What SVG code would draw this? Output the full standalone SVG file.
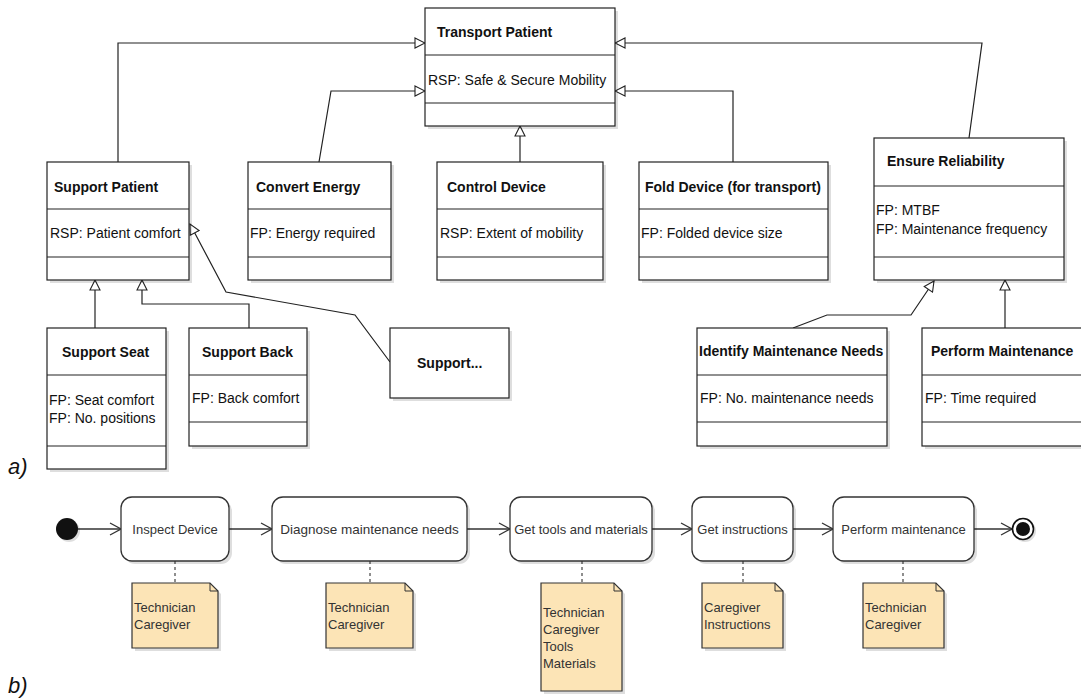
<svg xmlns="http://www.w3.org/2000/svg" width="1081" height="700" viewBox="0 0 1081 700">
<style>
.bx{fill:#fff;stroke:#222;stroke-width:1.2}
.sh{fill:#000;opacity:0.13}
.dv{stroke:#222;stroke-width:1.2}
.hd{font-family:"Liberation Sans",Arial,sans-serif;font-size:14px;font-weight:bold;fill:#111}
.tx{font-family:"Liberation Sans",Arial,sans-serif;font-size:14px;fill:#111}
.ac{fill:#fff;stroke:#333;stroke-width:1.3}
.at{font-family:"Liberation Sans",Arial,sans-serif;font-size:13px;fill:#333;text-anchor:middle}
.nt{fill:#fce4b6;stroke:#333;stroke-width:1.2}
.ntx{font-family:"Liberation Sans",Arial,sans-serif;font-size:13px;fill:#333}
.gen{fill:none;stroke:#222;stroke-width:1.2;marker-end:url(#tri)}
.flow{fill:none;stroke:#333;stroke-width:1.3;marker-end:url(#open)}
.dash{fill:none;stroke:#444;stroke-width:1.2;stroke-dasharray:3,3}
.lbl{font-family:"Liberation Sans",Arial,sans-serif;font-size:22px;font-style:italic;fill:#111}
</style>
<defs>
<marker id="tri" viewBox="0 0 12 12" refX="11" refY="6" markerWidth="12" markerHeight="12" orient="auto" markerUnits="userSpaceOnUse"><path d="M1,1 L11,6 L1,11 Z" fill="#fff" stroke="#222" stroke-width="1.1"/></marker>
<marker id="open" viewBox="0 0 14 14" refX="13" refY="7" markerWidth="14" markerHeight="14" orient="auto" markerUnits="userSpaceOnUse"><path d="M2,1 L13,7 L2,13" fill="none" stroke="#333" stroke-width="1.3"/></marker>
</defs>

<g id="connectors">
<path class="gen" d="M118,162 V43 H425"/>
<path class="gen" d="M319,162 L331,91 H425"/>
<path class="gen" d="M520,162 V126"/>
<path class="gen" d="M733,162 V91 H615"/>
<path class="gen" d="M969,138 L982,43 H615"/>
<path class="gen" d="M95,328 V280"/>
<path class="gen" d="M249,328 V304 H142 V280"/>
<path class="gen" d="M390,362 L355,315 L226,292 L190,224"/>
<path class="gen" d="M793,328 L827,315 H911 L934,281"/>
<path class="gen" d="M1005,328 V280"/>
<path class="flow" d="M78,529 H121"/>
<path class="flow" d="M229,529 H272"/>
<path class="flow" d="M467,529 H510"/>
<path class="flow" d="M652,529 H692"/>
<path class="flow" d="M793,529 H833"/>
<path class="flow" d="M974,529 H1012"/>
<path class="dash" d="M175,561 V583"/>
<path class="dash" d="M370,561 V583"/>
<path class="dash" d="M582,561 V583"/>
<path class="dash" d="M743,561 V583"/>
<path class="dash" d="M903,561 V583"/>
</g>

<g id="transport-patient">
<rect class="sh" x="428" y="11" width="190" height="118"/>
<rect class="bx" x="425" y="8" width="190" height="118"/>
<line class="dv" x1="425" y1="55" x2="615" y2="55"/>
<line class="dv" x1="425" y1="103" x2="615" y2="103"/>
<text class="hd" x="437" y="37">Transport Patient</text>
<text class="tx" x="428" y="85">RSP: Safe &amp; Secure Mobility</text>
</g>

<g id="support-patient">
<rect class="sh" x="50" y="165" width="142" height="118"/>
<rect class="bx" x="47" y="162" width="142" height="118"/>
<line class="dv" x1="47" y1="209" x2="189" y2="209"/>
<line class="dv" x1="47" y1="257" x2="189" y2="257"/>
<text class="hd" x="54" y="192">Support Patient</text>
<text class="tx" x="50" y="238">RSP: Patient comfort</text>
</g>

<g id="convert-energy">
<rect class="sh" x="251" y="165" width="143" height="118"/>
<rect class="bx" x="248" y="162" width="143" height="118"/>
<line class="dv" x1="248" y1="209" x2="391" y2="209"/>
<line class="dv" x1="248" y1="257" x2="391" y2="257"/>
<text class="hd" x="256" y="192">Convert Energy</text>
<text class="tx" x="250" y="238">FP: Energy required</text>
</g>

<g id="control-device">
<rect class="sh" x="440" y="165" width="166" height="118"/>
<rect class="bx" x="437" y="162" width="166" height="118"/>
<line class="dv" x1="437" y1="209" x2="603" y2="209"/>
<line class="dv" x1="437" y1="257" x2="603" y2="257"/>
<text class="hd" x="447" y="192">Control Device</text>
<text class="tx" x="440" y="238">RSP: Extent of mobility</text>
</g>

<g id="fold-device">
<rect class="sh" x="642" y="165" width="189" height="118"/>
<rect class="bx" x="639" y="162" width="189" height="118"/>
<line class="dv" x1="639" y1="209" x2="828" y2="209"/>
<line class="dv" x1="639" y1="257" x2="828" y2="257"/>
<text class="hd" x="645" y="192">Fold Device (for transport)</text>
<text class="tx" x="641" y="238">FP: Folded device size</text>
</g>

<g id="ensure-reliability">
<rect class="sh" x="877" y="141" width="190" height="142"/>
<rect class="bx" x="874" y="138" width="190" height="142"/>
<line class="dv" x1="874" y1="186" x2="1064" y2="186"/>
<line class="dv" x1="874" y1="257" x2="1064" y2="257"/>
<text class="hd" x="887" y="166">Ensure Reliability</text>
<text class="tx" x="876" y="215">FP: MTBF</text>
<text class="tx" x="876" y="234">FP: Maintenance frequency</text>
</g>

<g id="support-seat">
<rect class="sh" x="50" y="331" width="119" height="141"/>
<rect class="bx" x="47" y="328" width="119" height="141"/>
<line class="dv" x1="47" y1="375" x2="166" y2="375"/>
<line class="dv" x1="47" y1="446" x2="166" y2="446"/>
<text class="hd" x="62" y="357">Support Seat</text>
<text class="tx" x="49" y="405">FP: Seat comfort</text>
<text class="tx" x="49" y="423">FP: No. positions</text>
</g>

<g id="support-back">
<rect class="sh" x="192" y="331" width="118" height="118"/>
<rect class="bx" x="189" y="328" width="118" height="118"/>
<line class="dv" x1="189" y1="375" x2="307" y2="375"/>
<line class="dv" x1="189" y1="422" x2="307" y2="422"/>
<text class="hd" x="202" y="357">Support Back</text>
<text class="tx" x="192" y="403">FP: Back comfort</text>
</g>

<g id="support-other">
<rect class="sh" x="393" y="331" width="119" height="70"/>
<rect class="bx" x="390" y="328" width="119" height="70"/>
<text class="hd" x="417" y="368">Support...</text>
</g>

<g id="identify-maintenance">
<rect class="sh" x="700" y="331" width="190" height="118"/>
<rect class="bx" x="697" y="328" width="190" height="118"/>
<line class="dv" x1="697" y1="375" x2="887" y2="375"/>
<line class="dv" x1="697" y1="422" x2="887" y2="422"/>
<text class="hd" x="699" y="356">Identify Maintenance Needs</text>
<text class="tx" x="700" y="403">FP: No. maintenance needs</text>
</g>

<g id="perform-maintenance-class">
<rect class="sh" x="925" y="331" width="170" height="118"/>
<rect class="bx" x="922" y="328" width="170" height="118"/>
<line class="dv" x1="922" y1="375" x2="1092" y2="375"/>
<line class="dv" x1="922" y1="422" x2="1092" y2="422"/>
<text class="hd" x="931" y="356">Perform Maintenance</text>
<text class="tx" x="925" y="403">FP: Time required</text>
</g>

<text class="lbl" x="8" y="474">a)</text>
<text class="lbl" x="8" y="693">b)</text>

<g id="start">
<circle cx="69" cy="531" r="11" fill="#000" opacity="0.13"/>
<circle cx="67" cy="529" r="11" fill="#111"/>
</g>

<g id="inspect-device">
<rect class="sh" x="124" y="500" width="108" height="64" rx="11"/>
<rect class="ac" x="121" y="497" width="108" height="64" rx="11"/>
<text class="at" x="175" y="534">Inspect Device</text>
</g>

<g id="diagnose">
<rect class="sh" x="275" y="500" width="195" height="64" rx="11"/>
<rect class="ac" x="272" y="497" width="195" height="64" rx="11"/>
<text class="at" x="369.5" y="534" style="font-size:13.5px">Diagnose maintenance needs</text>
</g>

<g id="get-tools">
<rect class="sh" x="513" y="500" width="142" height="64" rx="11"/>
<rect class="ac" x="510" y="497" width="142" height="64" rx="11"/>
<text class="at" x="581" y="534">Get tools and materials</text>
</g>

<g id="get-instructions">
<rect class="sh" x="695" y="500" width="101" height="64" rx="11"/>
<rect class="ac" x="692" y="497" width="101" height="64" rx="11"/>
<text class="at" x="742.5" y="534">Get instructions</text>
</g>

<g id="perform-maintenance">
<rect class="sh" x="836" y="500" width="141" height="64" rx="11"/>
<rect class="ac" x="833" y="497" width="141" height="64" rx="11"/>
<text class="at" x="903.5" y="534">Perform maintenance</text>
</g>

<g id="end">
<circle cx="1025" cy="531" r="11" fill="#000" opacity="0.13"/>
<circle cx="1023" cy="529" r="10.5" fill="#fff" stroke="#111" stroke-width="1.6"/>
<circle cx="1023" cy="529" r="7" fill="#111"/>
</g>

<g id="note-inspect">
<path class="sh" d="M135,586 H213 L221,594 V651 H135 Z"/>
<path class="nt" d="M132,583 H210 L218,591 V648 H132 Z"/>
<path d="M210,583 V591 H218" fill="none" stroke="#333" stroke-width="1"/>
<text class="ntx" x="134" y="612">Technician</text>
<text class="ntx" x="134" y="629">Caregiver</text>
</g>

<g id="note-diagnose">
<path class="sh" d="M329,586 H408 L416,594 V651 H329 Z"/>
<path class="nt" d="M326,583 H405 L413,591 V648 H326 Z"/>
<path d="M405,583 V591 H413" fill="none" stroke="#333" stroke-width="1"/>
<text class="ntx" x="328" y="612">Technician</text>
<text class="ntx" x="328" y="629">Caregiver</text>
</g>

<g id="note-tools">
<path class="sh" d="M544,586 H617 L625,594 V694 H544 Z"/>
<path class="nt" d="M541,583 H614 L622,591 V691 H541 Z"/>
<path d="M614,583 V591 H622" fill="none" stroke="#333" stroke-width="1"/>
<text class="ntx" x="543" y="617">Technician</text>
<text class="ntx" x="543" y="634">Caregiver</text>
<text class="ntx" x="543" y="651">Tools</text>
<text class="ntx" x="543" y="668">Materials</text>
</g>

<g id="note-instructions">
<path class="sh" d="M705,586 H778 L786,594 V651 H705 Z"/>
<path class="nt" d="M702,583 H775 L783,591 V648 H702 Z"/>
<path d="M775,583 V591 H783" fill="none" stroke="#333" stroke-width="1"/>
<text class="ntx" x="704" y="612">Caregiver</text>
<text class="ntx" x="704" y="629">Instructions</text>
</g>

<g id="note-perform">
<path class="sh" d="M866,586 H939 L947,594 V651 H866 Z"/>
<path class="nt" d="M863,583 H936 L944,591 V648 H863 Z"/>
<path d="M936,583 V591 H944" fill="none" stroke="#333" stroke-width="1"/>
<text class="ntx" x="865" y="612">Technician</text>
<text class="ntx" x="865" y="629">Caregiver</text>
</g>
</svg>
